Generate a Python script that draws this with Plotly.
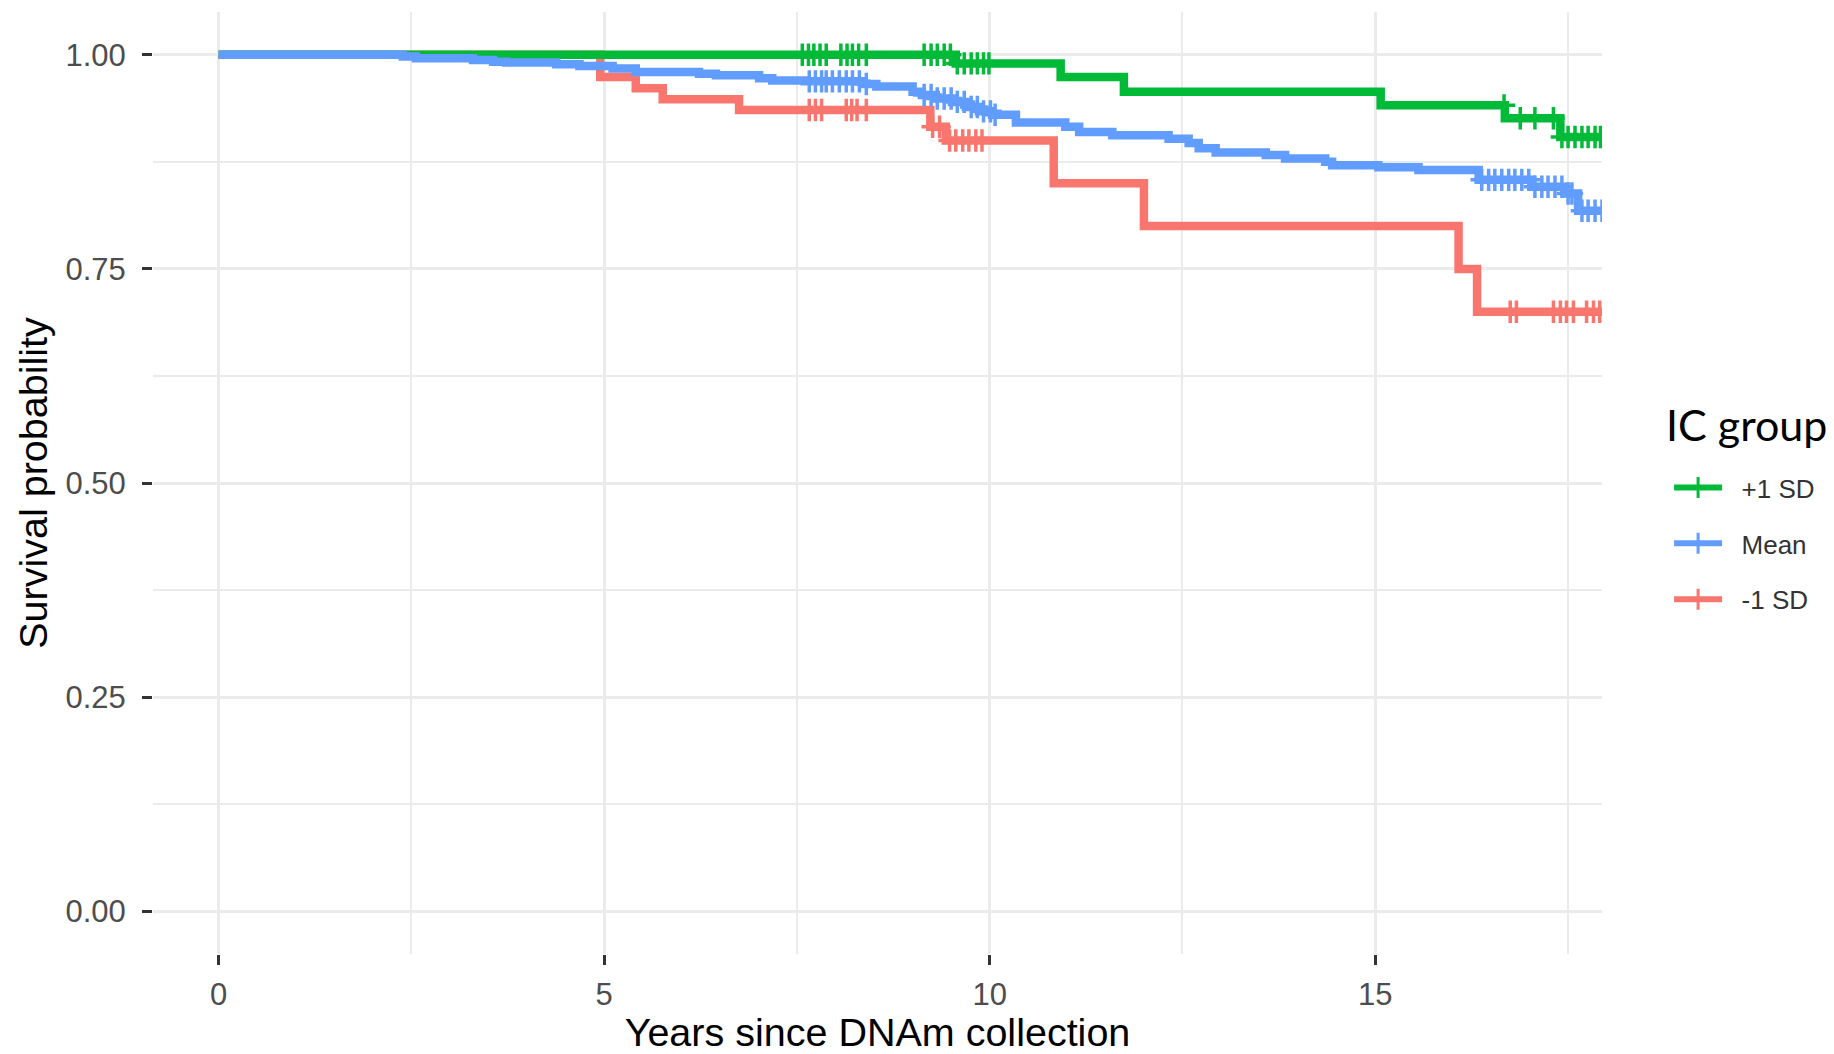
"""
plot.py
Kaplan-Meier style survival curves by IC group, drawn with Plotly.
"""

import numpy as np
import plotly.graph_objects as go


# ── Data ──────────────────────────────────────────────────────────────────────
GROUPS = ["+1 SD", "Mean", "-1 SD"]
LEGEND_TITLE = "IC group"

# step times (years) and the survival level that starts at each time
plus_times = [0.0, 9.56, 10.92, 11.74, 15.07, 16.68, 17.40, 17.94]
plus_surv = [1.000, 0.990, 0.974, 0.957, 0.941, 0.926, 0.904, 0.904]
plus_censor = [
    7.57, 7.65, 7.72, 7.80, 7.88, 8.07, 8.15, 8.22, 8.30, 8.40,
    9.15, 9.24, 9.32, 9.41, 9.49, 9.58, 9.67, 9.76, 9.84, 9.92, 9.99,
    16.67, 16.88, 17.07, 17.31, 17.42, 17.50, 17.59, 17.68, 17.76, 17.85, 17.92,
]

mean_times = [
    0.0, 2.39, 2.56, 3.30, 3.56, 3.73, 4.38, 4.68, 5.11, 5.41, 6.23, 6.45,
    7.01, 7.18, 7.60, 8.35, 8.53, 9.00, 9.12, 9.30, 9.51, 9.69, 9.86, 10.03,
    10.34, 10.98, 11.16, 11.59, 12.32, 12.58, 12.71, 12.93, 13.58, 13.83,
    14.35, 14.44, 15.04, 15.56, 16.34, 17.03, 17.46, 17.63, 17.94,
]
mean_surv = [
    1.000, 0.998, 0.996, 0.994, 0.992, 0.991, 0.989, 0.987, 0.984, 0.980, 0.978, 0.976,
    0.9725, 0.970, 0.969, 0.966, 0.963, 0.957, 0.953, 0.949, 0.945, 0.939, 0.934, 0.930,
    0.921, 0.916, 0.910, 0.906, 0.902, 0.897, 0.891, 0.886, 0.883, 0.879,
    0.875, 0.871, 0.8686, 0.8655, 0.854, 0.846, 0.838, 0.818, 0.818,
]
mean_censor = [
    7.66, 7.74, 7.82, 7.88, 7.96, 8.05, 8.14, 8.22, 8.31, 8.40,
    9.15, 9.24, 9.32, 9.41, 9.50, 9.58, 9.67, 9.76, 9.84, 9.92, 10.01, 10.07,
    16.38, 16.47, 16.55, 16.64, 16.73, 16.81, 16.90, 16.99,
    17.07, 17.16, 17.24, 17.33, 17.42, 17.50, 17.55, 17.68, 17.76, 17.85, 17.94,
]

minus_times = [0.0, 4.95, 5.41, 5.76, 6.75, 9.23, 9.43, 10.83, 12.00, 16.08, 16.32, 17.94]
minus_surv = [1.000, 0.974, 0.961, 0.948, 0.9355, 0.916, 0.900, 0.850, 0.800, 0.750, 0.700, 0.700]
minus_censor = [
    7.66, 7.74, 7.82, 8.14, 8.21, 8.28, 8.40,
    9.26, 9.35, 9.48, 9.56, 9.65, 9.73, 9.82, 9.90,
    16.75, 16.83, 17.31, 17.40, 17.48, 17.57, 17.74, 17.83, 17.91,
]

X_TICKS = [0, 5, 10, 15]
X_TICK_TEXT = ["0", "5", "10", "15"]
Y_TICKS = [0.0, 0.25, 0.5, 0.75, 1.0]
Y_TICK_TEXT = ["0.00", "0.25", "0.50", "0.75", "1.00"]


# ── Style ─────────────────────────────────────────────────────────────────────
COLORS = {"+1 SD": "#00BA38", "Mean": "#619CFF", "-1 SD": "#F8766D"}
GRID = "#EBEBEB"
SANS = "Liberation Sans, Arial, sans-serif"
TICK_FONT = dict(family=SANS, size=31, color="#4D4D4D")
TITLE_FONT = dict(family=SANS, size=39.5, color="#000000")
LINE_W = 8.5

# the page adds an 8px body margin, so the figure is drawn 8px smaller
FIG_W, FIG_H = 1826, 1046


def _level_at(times, surv, t):
    """Survival level of a step curve at time t."""
    idx = np.searchsorted(np.asarray(times), np.asarray(t), side="right") - 1
    return np.asarray(surv)[idx]


def build_figure() -> go.Figure:
    series = {
        "+1 SD": (plus_times, plus_surv, plus_censor),
        "Mean": (mean_times, mean_surv, mean_censor),
        "-1 SD": (minus_times, minus_surv, minus_censor),
    }
    fig = go.Figure()

    # draw order: red at the bottom, blue on top
    for name in ["-1 SD", "+1 SD", "Mean"]:
        times, surv, censor = series[name]
        col = COLORS[name]
        fig.add_trace(go.Scatter(
            x=times, y=surv, mode="lines",
            line=dict(color=col, width=LINE_W, shape="hv"),
            showlegend=False, hoverinfo="skip",
        ))
        fig.add_trace(go.Scatter(
            x=censor, y=_level_at(times, surv, censor), mode="markers",
            marker=dict(symbol="cross-thin-open", size=16, color=col,
                        line=dict(color=col, width=3.5)),
            showlegend=False, hoverinfo="skip",
        ))

    # legend entries (line with a "+"); the nbsp pad mimics the wider key gap
    for name in GROUPS:
        fig.add_trace(go.Scatter(
            x=[None], y=[None], mode="lines+markers",
            name="&nbsp;&nbsp;" + name,
            legendgroup=name,
            line=dict(color=COLORS[name], width=6),
            marker=dict(symbol="cross-thin-open", size=15, color=COLORS[name],
                        line=dict(color=COLORS[name], width=3)),
        ))

    fig.update_layout(
        width=FIG_W, height=FIG_H,
        paper_bgcolor="white", plot_bgcolor="white",
        margin=dict(l=145, r=232, t=4, b=100, autoexpand=False),
        legend=dict(
            x=1.0463, y=0.52, xanchor="left", yanchor="top",
            font=dict(family=SANS, size=26, color="#333333"),
            tracegroupgap=19,
            itemwidth=48,
            bgcolor="rgba(0,0,0,0)",
        ),
        annotations=[dict(
            text=LEGEND_TITLE, xref="paper", yref="paper",
            x=1.0428, y=0.5616, xanchor="left", yanchor="middle",
            showarrow=False,
            font=dict(family="Lato, Carlito, sans-serif", size=43, color="#000000"),
        )],
    )
    fig.update_xaxes(
        range=[-0.85, 17.94],
        tickmode="array", tickvals=X_TICKS, ticktext=X_TICK_TEXT,
        ticks="outside", ticklen=10, tickwidth=3, tickcolor="#333333",
        ticklabelstandoff=3,
        tickfont=TICK_FONT,
        showgrid=True, gridcolor=GRID, gridwidth=3,
        minor=dict(tickmode="linear", tick0=0, dtick=2.5, showgrid=True,
                   gridcolor=GRID, gridwidth=1.8, ticks=""),
        zeroline=False, showline=False,
        title=dict(text="Years since DNAm collection", font=TITLE_FONT, standoff=20),
    )
    fig.update_yaxes(
        range=[-0.05, 1.05],
        tickmode="array", tickvals=Y_TICKS, ticktext=Y_TICK_TEXT,
        ticks="outside", ticklen=10, tickwidth=3, tickcolor="#333333",
        ticklabelstandoff=10,
        tickfont=TICK_FONT,
        showgrid=True, gridcolor=GRID, gridwidth=3,
        minor=dict(tickmode="linear", tick0=0, dtick=0.125, showgrid=True,
                   gridcolor=GRID, gridwidth=1.8, ticks=""),
        zeroline=False, showline=False,
        title=dict(text="Survival probability", font=TITLE_FONT, standoff=5),
    )
    return fig


if __name__ == "__main__":
    fig = build_figure()
    fig.write_html("out.html")
